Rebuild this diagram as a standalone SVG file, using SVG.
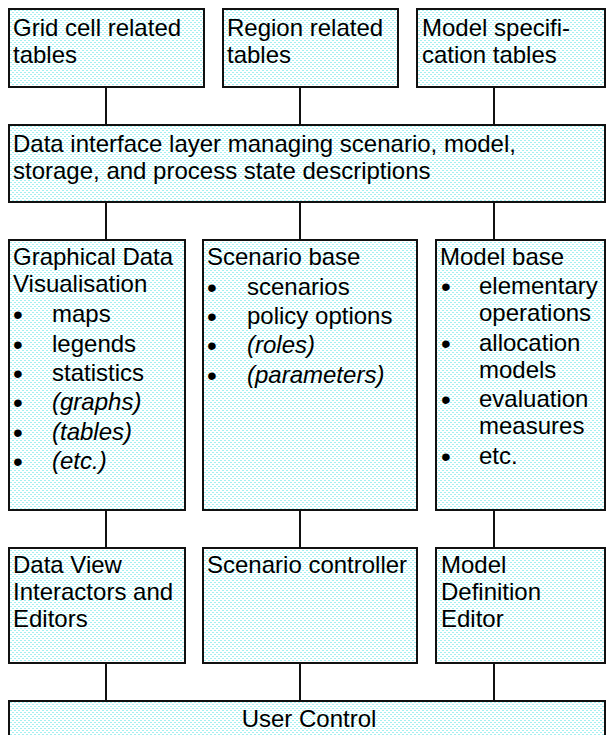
<svg xmlns="http://www.w3.org/2000/svg" width="606" height="735" viewBox="0 0 606 735">
<defs>
<pattern id="dots" width="4" height="4" patternUnits="userSpaceOnUse">
<rect width="4" height="4" fill="#ffffff"/>
<rect x="0" y="0" width="2" height="1" fill="#a6f0f0"/>
<rect x="2" y="2" width="2" height="1" fill="#a6f0f0"/>
</pattern>
</defs>
<style>
.box{fill:url(#dots);stroke:#111;stroke-width:2}
.t{font-family:"Liberation Sans",Arial,sans-serif;font-size:24px;fill:#000}
.i{font-style:italic}
.b{font-family:"Liberation Sans",Arial,sans-serif;font-size:28px;fill:#000;text-anchor:middle}
.c{stroke:#111;stroke-width:2;fill:none}
</style>
<rect width="606" height="735" fill="#ffffff"/>
<g id="connectors">
<line class="c" x1="106" y1="87" x2="106" y2="125"/>
<line class="c" x1="300" y1="87" x2="300" y2="125"/>
<line class="c" x1="494" y1="87" x2="494" y2="125"/>
<line class="c" x1="106" y1="202" x2="106" y2="240"/>
<line class="c" x1="300" y1="202" x2="300" y2="240"/>
<line class="c" x1="494" y1="202" x2="494" y2="240"/>
<line class="c" x1="106" y1="510" x2="106" y2="548"/>
<line class="c" x1="300" y1="510" x2="300" y2="548"/>
<line class="c" x1="494" y1="510" x2="494" y2="548"/>
<line class="c" x1="106" y1="663" x2="106" y2="701"/>
<line class="c" x1="300" y1="663" x2="300" y2="701"/>
<line class="c" x1="494" y1="663" x2="494" y2="701"/>
</g>
<g id="grid-cell-tables">
<rect class="box" x="9" y="9" width="195" height="78"/>
<text class="t" x="13" y="36">Grid cell related</text>
<text class="t" x="13" y="63">tables</text>
</g>
<g id="region-tables">
<rect class="box" x="223" y="9" width="175" height="78"/>
<text class="t" x="227" y="36">Region related</text>
<text class="t" x="227" y="63">tables</text>
</g>
<g id="model-spec-tables">
<rect class="box" x="417" y="9" width="188" height="78"/>
<text class="t" x="422" y="36">Model specifi-</text>
<text class="t" x="422" y="63">cation tables</text>
</g>
<g id="data-interface-layer">
<rect class="box" x="9" y="125" width="596" height="77"/>
<text class="t" x="13" y="152">Data interface layer managing scenario, model,</text>
<text class="t" x="13" y="179">storage, and process state descriptions</text>
</g>
<g id="graphical-data-visualisation">
<rect class="box" x="9" y="240" width="176" height="270"/>
<text class="t" x="13" y="265">Graphical Data</text>
<text class="t" x="13" y="292">Visualisation</text>
<text class="b" x="18" y="324">•</text><text class="t" x="52" y="322">maps</text>
<text class="b" x="18" y="354">•</text><text class="t" x="52" y="352">legends</text>
<text class="b" x="18" y="383">•</text><text class="t" x="52" y="381">statistics</text>
<text class="b" x="18" y="412">•</text><text class="t i" x="52" y="410">(graphs)</text>
<text class="b" x="18" y="442">•</text><text class="t i" x="52" y="440">(tables)</text>
<text class="b" x="18" y="471">•</text><text class="t i" x="52" y="469">(etc.)</text>
</g>
<g id="scenario-base">
<rect class="box" x="203" y="240" width="214" height="270"/>
<text class="t" x="207" y="265">Scenario base</text>
<text class="b" x="212" y="297">•</text><text class="t" x="247" y="295">scenarios</text>
<text class="b" x="212" y="326">•</text><text class="t" x="247" y="324">policy options</text>
<text class="b" x="212" y="355">•</text><text class="t i" x="247" y="353">(roles)</text>
<text class="b" x="212" y="385">•</text><text class="t i" x="247" y="383">(parameters)</text>
</g>
<g id="model-base">
<rect class="box" x="436" y="240" width="169" height="270"/>
<text class="t" x="440" y="265">Model base</text>
<text class="b" x="446" y="296">•</text><text class="t" x="479" y="294">elementary</text>
<text class="t" x="479" y="321">operations</text>
<text class="b" x="446" y="353">•</text><text class="t" x="479" y="351">allocation</text>
<text class="t" x="479" y="378">models</text>
<text class="b" x="446" y="409">•</text><text class="t" x="479" y="407">evaluation</text>
<text class="t" x="479" y="434">measures</text>
<text class="b" x="446" y="466">•</text><text class="t" x="479" y="464">etc.</text>
</g>
<g id="data-view-interactors">
<rect class="box" x="9" y="548" width="176" height="115"/>
<text class="t" x="13" y="573">Data View</text>
<text class="t" x="13" y="600">Interactors and</text>
<text class="t" x="13" y="627">Editors</text>
</g>
<g id="scenario-controller">
<rect class="box" x="203" y="548" width="214" height="115"/>
<text class="t" x="207" y="573">Scenario controller</text>
</g>
<g id="model-definition-editor">
<rect class="box" x="436" y="548" width="169" height="115"/>
<text class="t" x="441" y="573">Model</text>
<text class="t" x="441" y="600">Definition</text>
<text class="t" x="441" y="627">Editor</text>
</g>
<g id="user-control">
<rect class="box" x="9" y="701" width="596" height="45"/>
<text class="t" x="309" y="727" text-anchor="middle">User Control</text>
</g>
</svg>
